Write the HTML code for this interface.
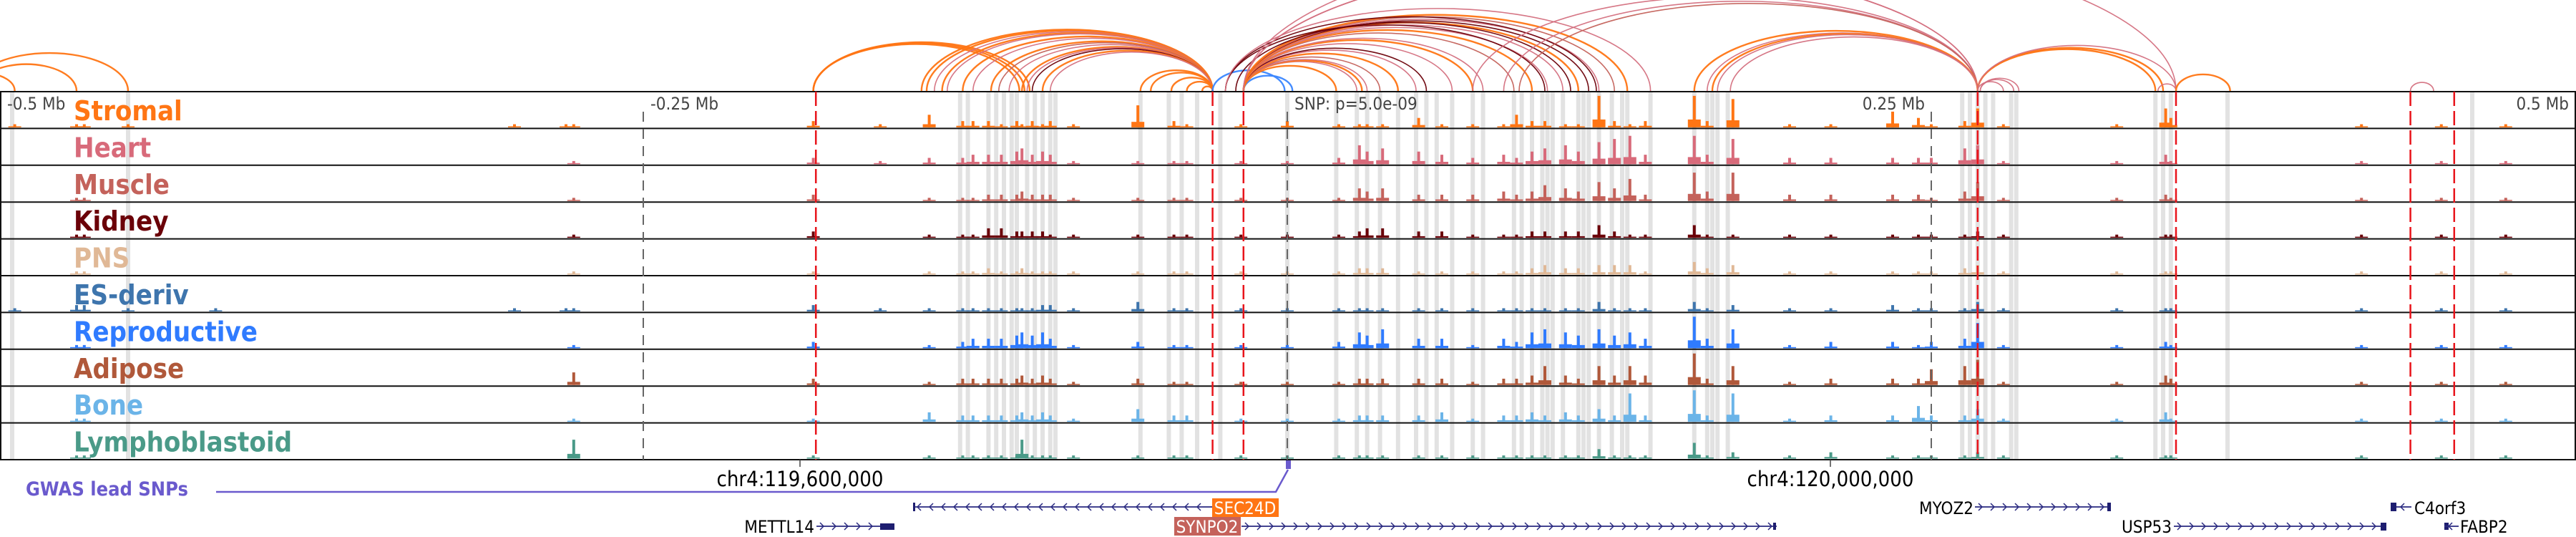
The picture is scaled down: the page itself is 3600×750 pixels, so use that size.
<!DOCTYPE html>
<html><head><meta charset="utf-8">
<style>
html,body{margin:0;padding:0;background:#fff;}
svg{display:block;}
text{font-family:"DejaVu Sans Condensed","DejaVu Sans","Liberation Sans",sans-serif;font-stretch:condensed;}
</style></head>
<body>
<svg id="chart" width="3600" height="750" viewBox="0 0 3600 750" xmlns="http://www.w3.org/2000/svg">
<g id="arcs"></g>
<g id="cols"></g>
<g id="tracks"></g>
<g id="vlines"></g>
<g id="labels"></g>
<g id="axis"></g>
<g id="genes"></g>
</svg>
<script>
// ---- data ----
const trackNames = ["Stromal","Heart","Muscle","Kidney","PNS","ES-deriv","Reproductive","Adipose","Bone","Lymphoblastoid"];
const trackColors = ["#ff7514","#d86a7a","#c4625b","#6b0008","#e0b896","#3e75ad","#2f7bff","#b0583a","#6bb4e8","#4a9a88"];
const binKb = [-494,-470,-467,-450,-416,-300,-280,-277,-184,-158,
  -139,-126,-122,-116,-111,-105,-103,-99,-95,-92,
  -83,-58,-44,-39,-18,0,20,28,31,37,
  51,60,72,84,89,95,100,108,113,121,
  127,133,139,158,163,173,195,211,235,245,
  250,263,268,278,322,341,343,417,448,473];
const stromal = [1,1,1,1,0,1,1,1,2,1, 4,2,2,2,1,2,1,2,1,2, 1,7,2,1,1,2,1,1,1,1, 3,1,1,1,4,2,2,1,1,10, 2,1,2,10,2,9,1,1,5,3, 1,2,6,1,1,6,3,1,1,1];
const heart   = [0,0,0,0,0,0,0,1,2,1, 2,2,3,3,3,4,5,3,4,3, 1,1,1,1,1,1,2,6,4,5, 4,3,2,3,2,4,5,6,4,7, 8,9,3,9,3,8,2,2,2,2, 2,5,6,1,1,3,1,1,1,1];
const muscle  = [0,1,1,0,0,0,0,1,2,0, 1,1,1,2,2,2,3,2,2,2, 1,1,1,1,1,1,1,4,3,4, 2,2,2,3,2,3,5,4,3,6, 4,7,2,9,3,9,2,2,2,2, 1,3,6,1,1,2,1,1,1,1];
const kidney  = [0,1,1,0,0,0,0,1,2,0, 1,1,1,3,3,2,2,2,2,1, 1,1,1,1,1,1,1,2,3,3, 2,2,1,1,1,2,2,2,2,4, 2,1,1,4,1,1,1,1,1,1, 1,1,2,1,1,1,1,1,1,1];
const pns     = [0,1,1,0,0,0,0,1,1,0, 1,1,1,2,1,1,2,1,1,1, 1,1,1,1,1,1,1,2,2,2, 1,1,1,1,1,2,3,2,2,3, 3,3,1,4,2,3,1,1,1,1, 1,2,3,1,1,1,1,1,1,1];
const esDeriv = [1,2,2,1,1,1,1,1,2,1, 1,1,1,1,1,1,1,1,2,2, 1,3,1,1,1,1,1,1,1,1, 1,1,1,1,1,1,1,1,1,3, 1,1,1,3,1,2,1,1,2,1, 1,1,3,1,1,1,1,1,1,1];
const reprod  = [0,1,1,0,0,0,0,1,2,0, 1,2,3,3,3,4,5,4,5,3, 1,2,1,1,1,1,2,5,4,6, 3,3,1,3,2,5,6,5,4,6, 4,5,3,10,3,6,1,2,2,1, 2,3,8,1,1,2,1,1,1,1];
const adipose = [0,0,0,0,0,0,0,4,2,0, 1,2,2,2,2,2,3,2,3,2, 1,2,1,1,1,1,1,2,2,2, 2,2,1,2,2,3,6,3,2,6, 3,6,3,10,2,6,1,2,2,2, 5,6,8,1,1,3,2,1,1,1];
const bone    = [0,1,1,0,0,0,0,1,1,0, 3,2,2,2,2,2,3,2,3,2, 1,4,2,2,1,1,1,2,2,2, 2,3,1,2,2,3,2,3,2,4, 2,9,2,10,2,9,1,2,2,5, 2,2,4,1,1,3,1,1,1,1];
const lympho  = [0,1,1,0,0,0,0,6,1,0, 1,1,1,1,1,1,6,1,1,1, 1,1,1,1,1,1,1,1,1,1, 1,1,1,1,1,1,1,1,1,3, 1,1,1,5,1,2,1,2,1,1, 1,1,2,1,1,1,1,1,1,1];
const series = [stromal,heart,muscle,kidney,pns,esDeriv,reprod,adipose,bone,lympho];
const highlightKb = [-495,-450,-127,-124,-116,-113,-110,-107,-105,-101,-98,-95,-92,-90,-57,-46,-41,-35,-26,0,19,27,31,36,43,50,54,58,64,72,76,88,91,95,99,101,103,107,113,115,117,121,126,130,132,141,158,163,165,167,171,262,265,268,271,274,281,283,337,340,343,365,460];
const redKb = [-183,-29,-17,268,345,436,453];
const axisKb = [-250,0,250];
const axisLabels = ["-0.5 Mb","-0.25 Mb","SNP: p=5.0e-09","0.25 Mb","0.5 Mb"];
const axisLabelKb = [-500,-250,0,250,500];
// arcs: start kb, end kb, color key
const arcStart = [-516,-509,-511,-184,-184,-184,-142,-140,-137,-134,-132,-126,-122,-115,-112,-108,-103,-101,-99,-95,-92,-57,-53,-45,-39,-33,-29,-17,-17,-17,-17,-17,-17,-17,-17,-17,-17,-17,-17,-17,-17,-17,-17,-17,-17,-17,-17,-17,-17,-24,-24,-24,-20,-17,-17,72,84,90,158,163,165,167,172,268,268,268,268,269,269,338,345,436];
const arcEnd   = [-494,-470,-450,-104,-102,-100,-29,-29,-29,-29,-29,-29,-29,-29,-29,-29,-29,-29,-29,-29,-29,-29,-29,-29,-29,-29,-1,2,19,27,29,31,36,43,50,54,64,72,76,88,95,101,107,113,117,121,127,132,268,100,120,141,110,268,345,268,268,268,268,268,268,268,268,337,340,345,278,282,284,345,366,445];
const arcColor = ["O","O","O","O","O","O","O","O","P","O","P","O","P","O","M","P","O","P","K","O","P","O","O","O","O","O","B","B","O","P","O","P","M","O","P","K","P","O","P","M","O","P","P","O","K","P","M","O","P","K","K","P","K","P","P","P","P","M","O","P","O","P","P","O","O","P","P","P","P","P","O","P"];

// ---- helpers ----
const NS = "http://www.w3.org/2000/svg";
const X0 = 1799, PXKB = 3.6;
const xs = kb => X0 + kb * PXKB;
const TOP = 128, TH = 51.4, NT = 10;
const trackTop = i => TOP + i * TH;
const hScale = v => v / 10 * 44;
const palette = {O:"#ff7514",P:"#d4707f",M:"#c4625b",K:"#6b0008",B:"#3a86ff"};
function mk(tag, attrs, parent){const e=document.createElementNS(NS,tag);for(const k in attrs)e.setAttribute(k,attrs[k]);parent.appendChild(e);return e;}

// arcs
const gA = document.getElementById("arcs");
for(let i=0;i<arcStart.length;i++){
  const x1 = xs(arcStart[i]), x2 = xs(arcEnd[i]);
  const w = Math.abs(x2-x1);
  const h = 0.79*Math.pow(w,0.78);
  const c = palette[arcColor[i]];
  const p = mk("path",{d:`M${x1},${TOP-1} A${w/2},${h} 0 0 1 ${x2},${TOP-1}`,fill:"none",stroke:c,"stroke-width":(arcColor[i]==="O"||arcColor[i]==="B")?2.4:1.6,opacity:0.95},gA);
  
  
}

// highlight columns
const gC = document.getElementById("cols");
for(const kb of highlightKb){
  const r = mk("rect",{x:xs(kb)-3,y:TOP,width:6,height:NT*TH,fill:"#e2e2e2"},gC);
  
  
}

// tracks
const gT = document.getElementById("tracks");
for(let t=0;t<NT;t++){
  const base = trackTop(t+1)-1.5;
  const g = mk("g",{},gT);
  
  
  const vals = series[t];
  for(let i=0;i<binKb.length;i++){
    const v = vals[i]; if(!v) continue;
    const x = xs(binKb[i]);
    const b = mk("rect",{x:x-2,y:base-hScale(v),width:4,height:hScale(v),fill:trackColors[t]},g);
    
    
    const lo = Math.max(1.5,hScale(v)*0.25);
    const f = mk("rect",{x:x-9,y:base-lo,width:18,height:lo,fill:trackColors[t]},g);
    
    
  }
}

// track borders, axis dashes, red lines
const gV = document.getElementById("vlines");
for(let t=0;t<=NT;t++){
  const l = mk("line",{x1:0,x2:3600,y1:trackTop(t),y2:trackTop(t),stroke:"#111","stroke-width":2},gV);
  
  
}
const fl = mk("line",{x1:1,x2:1,y1:TOP,y2:trackTop(NT),stroke:"#111","stroke-width":2},gV);


const fr = mk("line",{x1:3599,x2:3599,y1:TOP,y2:trackTop(NT),stroke:"#111","stroke-width":2},gV);


for(const kb of axisKb){
  const l = mk("line",{x1:xs(kb),x2:xs(kb),y1:TOP+28,y2:trackTop(NT),stroke:"#666","stroke-width":2,"stroke-dasharray":"14,10"},gV);
  
  
}
for(const kb of redKb){
  const l = mk("line",{x1:xs(kb),x2:xs(kb),y1:TOP,y2:trackTop(NT),stroke:"#e8141b","stroke-width":2.5,"stroke-dasharray":"20,7"},gV);
  
  
}

// labels
const gL = document.getElementById("labels");
for(let t=0;t<NT;t++){
  const tx = mk("text",{x:103,y:trackTop(t)+40,fill:trackColors[t],"font-size":38,"font-weight":"bold"},gL);
  tx.textContent = trackNames[t];
  
  
}

// axis labels
const gX = document.getElementById("axis");
for(let i=0;i<axisLabels.length;i++){
  const kb = axisLabelKb[i];
  let x = xs(kb)+10, anchor="start";
  if(kb>0){x = xs(kb)-9; anchor="end";}
  if(kb<=-500) x = 10;
  if(kb>=500) x = 3590;
  const tx = mk("text",{x:x,y:153,fill:"#444","font-size":24,"text-anchor":anchor},gX);
  tx.textContent = axisLabels[i];
  
  
}

// gene / coordinate track
const gG = document.getElementById("genes");
function el(tag,attrs,name){const e=document.createElementNS(NS,tag);for(const k in attrs)e.setAttribute(k,attrs[k]);gG.appendChild(e);return e;}
function txt(x,y,s,size,fill,anchor,name,weight){const t=el("text",{x:x,y:y,"font-size":size,fill:fill,"text-anchor":anchor||"start","font-weight":weight||"normal"},name);t.textContent=s;return t;}
el("line",{x1:1118,x2:1118,y1:642,y2:652,stroke:"#444","stroke-width":1.5},"coord-tick");
el("line",{x1:2558,x2:2558,y1:642,y2:652,stroke:"#444","stroke-width":1.5},"coord-tick");
txt(1118,679,"chr4:119,600,000",29,"#000","middle","coord-label");
txt(2558,679,"chr4:120,000,000",29,"#000","middle","coord-label");
txt(36,692,"GWAS lead SNPs",27,"#6a5acd","start","gwas-label","bold");
el("polyline",{points:"302,687 1783,687 1800,656",fill:"none",stroke:"#6a5acd","stroke-width":2.5},"gwas-connector");
el("rect",{x:1797,y:643,width:7,height:12,fill:"#6a5acd"},"gwas-snp-marker");
function gene(x1,x2,y,dir,name){
  el("line",{x1:x1,x2:x2,y1:y,y2:y,stroke:"#2a2a80","stroke-width":1.8},name+"-line");
  let d="";
  for(let x=x1+8;x<x2-4;x+=17){
    if(dir>0) d+=`M${x-3},${y-5} L${x+2},${y} L${x-3},${y+5} `;
    else d+=`M${x+3},${y-5} L${x-2},${y} L${x+3},${y+5} `;
  }
  el("path",{d:d,fill:"none",stroke:"#2a2a80","stroke-width":1.5},name+"-arrows");
}
gene(1276,1694,708,-1,"sec24d");
el("rect",{x:1694,y:696,width:93,height:26,fill:"#ff7514"},"sec24d-label-box");
txt(1740,718,"SEC24D",24,"#fff","middle","sec24d-label");
el("rect",{x:1641,y:722,width:93,height:26,fill:"#c4625b"},"synpo2-label-box");
txt(1687,744,"SYNPO2",24,"#fff","middle","synpo2-label");
gene(1735,2483,735,1,"synpo2");
el("rect",{x:1276,y:702,width:3,height:12,fill:"#1e1e70"},"sec24d-exon");
el("rect",{x:2478,y:730,width:4,height:10,fill:"#1e1e70"},"synpo2-exon");
txt(1138,744,"METTL14",24,"#000","end","mettl14-label");
gene(1141,1232,735,1,"mettl14");
el("rect",{x:1230,y:731,width:20,height:9,fill:"#1e1e70"},"mettl14-exon");
txt(2758,718,"MYOZ2",24,"#000","end","myoz2-label");
gene(2760,2950,708,1,"myoz2");
el("rect",{x:2945,y:702,width:5,height:12,fill:"#1e1e70"},"myoz2-exon");
txt(3035,744,"USP53",24,"#000","end","usp53-label");
gene(3038,3335,735,1,"usp53");
el("rect",{x:3327,y:730,width:8,height:11,fill:"#1e1e70"},"usp53-exon");
el("rect",{x:3341,y:702,width:8,height:12,fill:"#1e1e70"},"c4orf3-exon");
gene(3349,3370,708,-1,"c4orf3");
txt(3374,718,"C4orf3",24,"#000","start","c4orf3-label");
el("rect",{x:3416,y:730,width:6,height:10,fill:"#1e1e70"},"fabp2-exon");
gene(3416,3436,735,-1,"fabp2");
txt(3438,744,"FABP2",24,"#000","start","fabp2-label");
</script>
</body></html>
